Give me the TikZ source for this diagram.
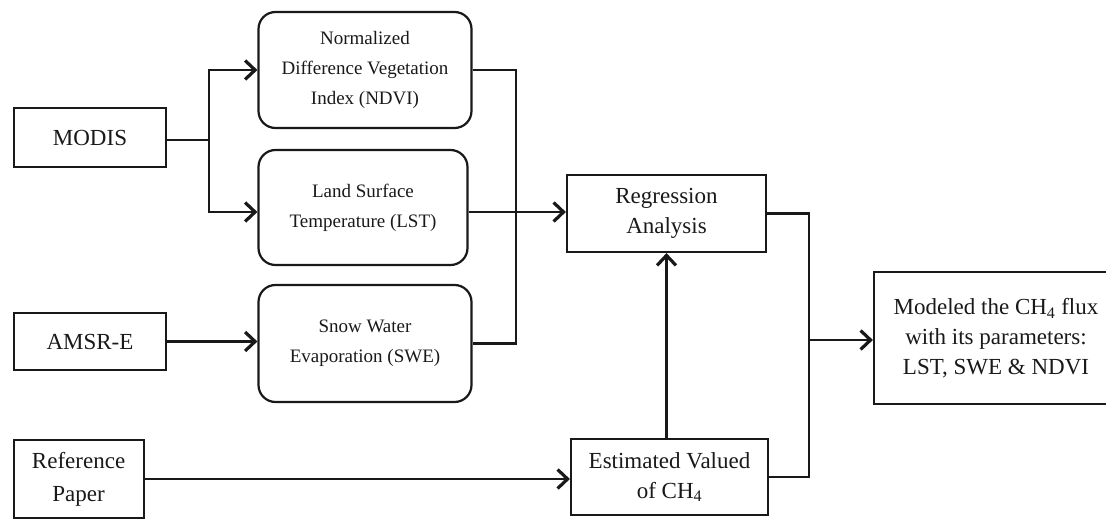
\documentclass[tikz,border=0pt]{standalone}
\usepackage{fontspec}
\setmainfont{Liberation Serif}
\usetikzlibrary{arrows.meta}
\definecolor{ink}{rgb}{0.1,0.1,0.1}
\begin{document}
\begin{tikzpicture}[x=1pt,y=-1pt,
  every node/.style={inner sep=0pt, align=center, text=ink},
  sqbox/.style={draw=ink, line width=2.2pt, rectangle, font=\fontsize{23}{30}\selectfont},
  rdbox/.style={draw=ink, line width=2.2pt, rectangle, rounded corners=17pt, font=\fontsize{19}{30}\selectfont},
  conn/.style={draw=ink, line width=2.1pt},
  arr/.style={conn, -{Straight Barb[length=10pt,width=19pt,line width=3.2pt]}}
]
\useasboundingbox (0,0) rectangle (1106,519);
\clip (0,0) rectangle (1106,519);
\node[sqbox, minimum width=152pt, minimum height=59pt] (modis) at (90,137.5) {MODIS};
\node[sqbox, minimum width=152pt, minimum height=57pt] (amsr) at (90,341.5) {AMSR-E};
\node[sqbox, minimum width=130pt, minimum height=78pt, font=\fontsize{23}{33}\selectfont] (ref) at (78.6,479) {Reference\\Paper};
\node[rdbox, minimum width=213pt, minimum height=116pt] (ndvi) at (365,70) {Normalized\\Difference Vegetation\\Index (NDVI)};
\node[rdbox, minimum width=209pt, minimum height=115pt] (lst) at (363,207.5) {Land Surface\\Temperature (LST)};
\node[rdbox, minimum width=213pt, minimum height=117pt] (swe) at (365,343.5) {Snow Water\\Evaporation (SWE)};
\node[sqbox, minimum width=199pt, minimum height=77pt] (reg) at (666.5,213.5) {Regression\\Analysis};
\node[sqbox, minimum width=197pt, minimum height=76pt] (est) at (669.5,477) {Estimated Valued\\of CH\textsubscript{4}};
\node[sqbox, minimum width=244pt, minimum height=132pt] (mod) at (996,338) {Modeled the CH\textsubscript{4} flux\\with its parameters:\\LST, SWE \& NDVI};
\coordinate (mb) at (209,140);
\coordinate (j1) at (516,212);
\coordinate (j2) at (809,340);
\draw[conn] (modis.east |- mb) -- (mb);
\draw[arr] (mb) |- (ndvi.west);
\draw[arr] (mb) |- (lst.west |- j1);
\draw[conn] (ndvi.east) -| (j1) |- (swe.east);
\draw[arr] (lst.east |- j1) -- (reg.west |- j1);
\draw[arr] (amsr.east) -- (swe.west |- amsr.east);
\draw[arr] (ref.east) -- (ref.east -| est.west);
\draw[arr] (reg.south |- est.north) -- (reg.south);
\draw[conn] (reg.east) -| (j2) |- (est.east);
\draw[arr] (j2) -- (j2 -| mod.west);
\end{tikzpicture}
\end{document}
